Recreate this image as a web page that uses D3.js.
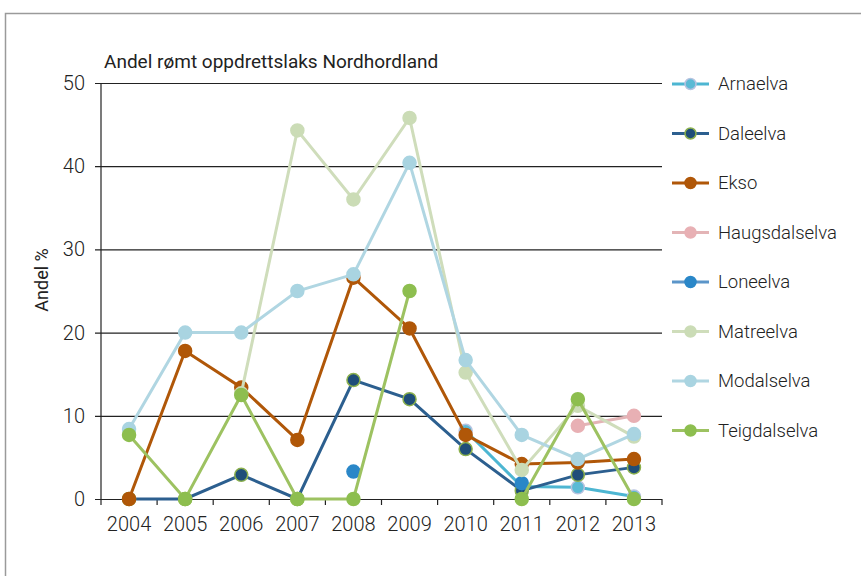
<!DOCTYPE html>
<html>
<head>
<meta charset="utf-8">
<script src="https://cdn.jsdelivr.net/npm/d3@7"></script>
<style>
  body { margin: 0; background: #fff; }
  text { font-family: Roboto, sans-serif; fill: #222; }
</style>
</head>
<body>
<svg id="chart" width="861" height="576"></svg>
<script>
const years = ['2004','2005','2006','2007','2008','2009','2010','2011','2012','2013'];
const yTicks = [0, 10, 20, 30, 40, 50];

// values in %, null = no value
const arnaelva      = [null, null, null, null, null, null, 8.2, 1.5, 1.4, 0.3];
const daleelva      = [0, 0, 2.9, 0, 14.3, 12, 6, 1, 2.9, 3.8];
const ekso          = [0, 17.8, 13.4, 7.1, 26.6, 20.5, 7.7, 4.2, 4.4, 4.8];
const haugsdalselva = [null, null, null, null, null, null, null, null, 8.8, 10];
const loneelva      = [null, null, null, null, 3.3, null, null, 1.9, null, null];
const matreelva     = [null, null, 12.7, 44.3, 36, 45.8, 15.2, 3.5, 11.2, 7.5];
const modalselva    = [8.4, 20, 20, 25, 27, 40.4, 16.7, 7.7, 4.8, 7.8];
const teigdalselva  = [7.7, 0, 12.5, 0, 0, 25, null, 0, 12, 0];

const series = [
  { name: 'Arnaelva',      values: arnaelva,      line: '#4db6d2', fill: '#5bbad5', stroke: '#b7c3e0' },
  { name: 'Daleelva',      values: daleelva,      line: '#2c5f8f', fill: '#1f4e79', stroke: '#8bb04d' },
  { name: 'Ekso',          values: ekso,          line: '#b05708', fill: '#b05708', stroke: '#b05708' },
  { name: 'Haugsdalselva', values: haugsdalselva, line: '#e3b4b6', fill: '#e8b0b4', stroke: '#e8b0b4' },
  { name: 'Loneelva',      values: loneelva,      line: '#5b95c9', fill: '#2a87c8', stroke: '#2a87c8' },
  { name: 'Matreelva',     values: matreelva,     line: '#cfddbb', fill: '#cbdcb6', stroke: '#cbdcb6' },
  { name: 'Modalselva',    values: modalselva,    line: '#b0d6e2', fill: '#a9d4e1', stroke: '#a9d4e1' },
  { name: 'Teigdalselva',  values: teigdalselva,  line: '#9dc261', fill: '#8dbe4f', stroke: '#8dbe4f' }
];

const svg = d3.select('#chart');
const plotLeft = 101, plotRight = 662, plotTop = 83, plotBottom = 499;

// frame
svg.append('path')
  .attr('d', 'M5.5,576V13.5H861')
  .attr('fill', 'none')
  .attr('stroke', '#9a9a9a')
  .attr('stroke-width', 1.5);

const x = d3.scaleBand().domain(years).range([plotLeft, plotRight]);
const y = d3.scaleLinear().domain([0, 50]).range([plotBottom, plotTop]);

// gridlines + y axis
const yAxis = svg.append('g')
  .attr('transform', `translate(${plotLeft},0)`)
  .call(d3.axisLeft(y).tickValues(yTicks).tickSize(6).tickPadding(10));
yAxis.select('.domain').remove();
yAxis.selectAll('.tick line')
  .attr('x1', -6).attr('x2', plotRight - plotLeft)
  .attr('stroke', '#222').attr('stroke-width', 1.2);
yAxis.selectAll('.tick text')
  .attr('font-size', 20).attr('font-weight', 300).attr('fill', '#222');

svg.append('line')
  .attr('x1', plotLeft).attr('x2', plotLeft)
  .attr('y1', plotTop).attr('y2', plotBottom + 6)
  .attr('stroke', '#222').attr('stroke-width', 1.2);

// x axis
const xAxis = svg.append('g')
  .attr('transform', `translate(0,${plotBottom})`)
  .call(d3.axisBottom(x).tickSize(0).tickPadding(18));
xAxis.select('.domain').remove();
xAxis.selectAll('.tick text')
  .attr('font-size', 20).attr('font-weight', 300).attr('fill', '#222');
svg.append('g').selectAll('line')
  .data(years)
  .join('line')
  .attr('x1', d => x(d) + x.bandwidth())
  .attr('x2', d => x(d) + x.bandwidth())
  .attr('y1', plotBottom).attr('y2', plotBottom + 6)
  .attr('stroke', '#222').attr('stroke-width', 1.2);

// title + y label
svg.append('text')
  .attr('x', 104).attr('y', 68)
  .attr('font-size', 19).attr('font-weight', 400)
  .text('Andel rømt oppdrettslaks Nordhordland');

svg.append('text')
  .attr('transform', 'translate(48,280) rotate(-90)')
  .attr('text-anchor', 'middle')
  .attr('font-size', 18).attr('font-weight', 400)
  .text('Andel %');

// lines
const line = d3.line()
  .defined(d => d.v !== null)
  .x(d => x(d.year) + x.bandwidth() / 2)
  .y(d => y(d.v));

const groups = svg.append('g').selectAll('g')
  .data(series)
  .join('g');

groups.append('path')
  .attr('d', s => line(s.values.map((v, i) => ({ year: years[i], v }))))
  .attr('fill', 'none')
  .attr('stroke', s => s.line)
  .attr('stroke-width', 3);

groups.selectAll('circle')
  .data(s => s.values.map((v, i) => ({ year: years[i], v, s })).filter(d => d.v !== null))
  .join('circle')
  .attr('cx', d => x(d.year) + x.bandwidth() / 2)
  .attr('cy', d => y(d.v))
  .attr('r', 6.5)
  .attr('fill', d => d.s.fill)
  .attr('stroke', d => d.s.stroke)
  .attr('stroke-width', 1.5);

// legend
const legend = svg.append('g').selectAll('g')
  .data(series)
  .join('g')
  .attr('transform', (d, i) => `translate(672,${84 + i * 49.5})`);
legend.append('line')
  .attr('x1', 0).attr('x2', 37)
  .attr('stroke', d => d.line).attr('stroke-width', 3);
legend.append('circle')
  .attr('cx', 18.5).attr('r', 5.5)
  .attr('fill', d => d.fill).attr('stroke', d => d.stroke).attr('stroke-width', 1.5);
legend.append('text')
  .attr('x', 46).attr('dy', '0.35em')
  .attr('font-size', 18.5).attr('font-weight', 300)
  .text(d => d.name);
</script>
</body>
</html>
